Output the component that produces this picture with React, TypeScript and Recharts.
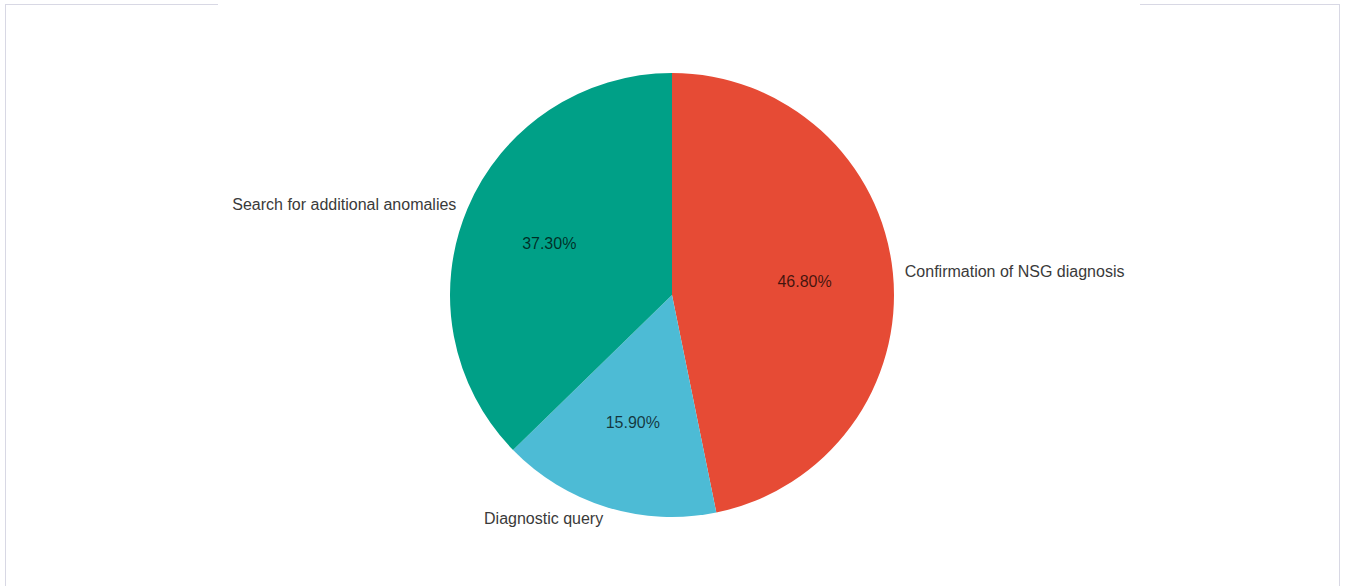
import React from "react";
import { PieChart, Pie, Cell } from "recharts";

// Purposes of the examination, shares in percent
const categories = [
  "Confirmation of NSG diagnosis",
  "Diagnostic query",
  "Search for additional anomalies",
];
const shares = [46.8, 15.9, 37.3];
const sliceColors = ["#E64B35", "#4DBBD5", "#00A087"];

const data = categories.map((name, i) => ({ name, value: shares[i] }));

const RAD = Math.PI / 180;

const renderLabel = (props: any) => {
  const { cx, cy, midAngle, outerRadius, value, name } = props;
  const cos = Math.cos(-midAngle * RAD);
  const sin = Math.sin(-midAngle * RAD);
  const inR = outerRadius * 0.6;
  const outR = outerRadius + 12;
  const ix = cx + inR * cos;
  const iy = cy + inR * sin;
  const ox = cx + outR * cos;
  const oy = cy + outR * sin;
  return (
    <g>
      <text
        x={ix}
        y={iy}
        textAnchor="middle"
        dominantBaseline="central"
        fill="rgba(0,0,0,0.72)"
        fontSize={16}
        fontFamily="'Liberation Sans', Arial, sans-serif"
      >
        {value.toFixed(2) + "%"}
      </text>
      <text
        x={ox}
        y={oy}
        textAnchor={ox >= cx ? "start" : "end"}
        dominantBaseline="central"
        fill="#3a3a3a"
        fontSize={16}
        fontFamily="'Liberation Sans', Arial, sans-serif"
      >
        {name}
      </text>
    </g>
  );
};

export default function App() {
  return (
    <div
      style={{
        position: "fixed",
        left: 0,
        top: 0,
        width: 1347,
        height: 586,
        background: "#fff",
        overflow: "hidden",
      }}
    >
      {/* frame around the chart, open at the top where the caption sits */}
      <div
        style={{
          position: "absolute",
          left: 5,
          top: 4,
          width: 1335,
          height: 700,
          border: "1px solid #d8d8e4",
          boxSizing: "border-box",
        }}
      />
      <div
        style={{
          position: "absolute",
          left: 218,
          top: 2,
          width: 922,
          height: 5,
          background: "#fff",
        }}
      />
      <div style={{ position: "absolute", left: 0, top: 0 }}>
        <PieChart
          width={1347}
          height={586}
          margin={{ top: 0, right: 0, bottom: 0, left: 0 }}
        >
          <Pie
            data={data}
            dataKey="value"
            nameKey="name"
            cx={672}
            cy={295}
            outerRadius={222}
            startAngle={90}
            endAngle={-270}
            stroke="none"
            label={renderLabel}
            labelLine={false}
            isAnimationActive={false}
          >
            {data.map((d, i) => (
              <Cell key={d.name} fill={sliceColors[i]} />
            ))}
          </Pie>
        </PieChart>
      </div>
    </div>
  );
}
